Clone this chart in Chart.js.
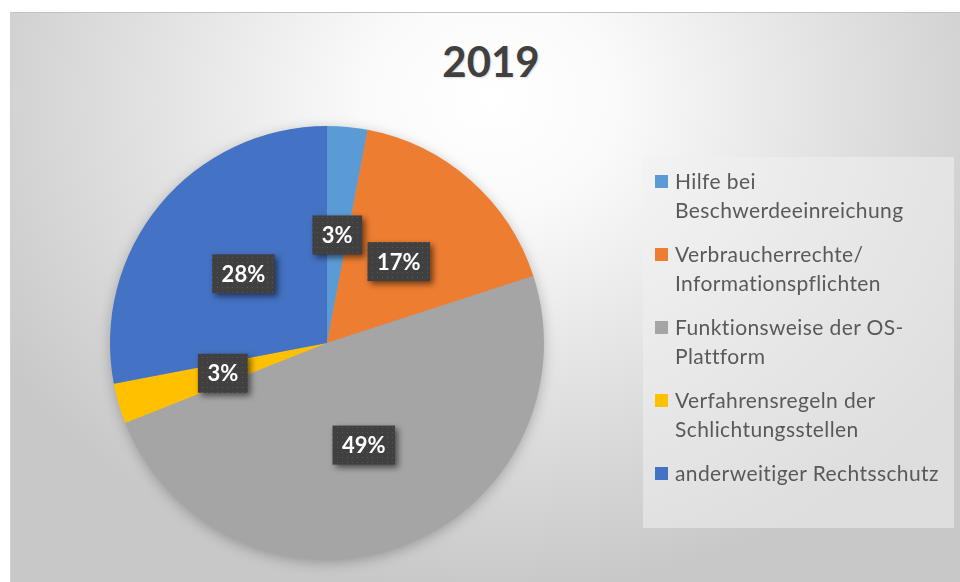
<!DOCTYPE html>
<html>
<head>
<meta charset="utf-8">
<script src="https://cdn.jsdelivr.net/npm/chart.js@4"></script>
<style>
  html, body { margin: 0; padding: 0; width: 960px; height: 582px; overflow: hidden; background: #fff; }
  #frame {
    position: absolute; left: 10px; top: 12px; width: 960px; height: 580px;
    border-top: 1px solid #c2c2c2; border-left: 1px solid #d0d0d0;
    background: radial-gradient(ellipse 60% 85% at 50% 15%, #ffffff 0%, #fafafa 22%, #e0e0e0 62%, #c8c8c8 100%);
  }
  #title {
    position: absolute; left: 0; width: 982px; top: 36px; text-align: center;
    font: bold 42px Lato, sans-serif; color: #404040;
    text-shadow: 1px 1px 2px rgba(0,0,0,0.15);
  }
  #chart { position: absolute; left: 0; top: 0; }
  #legend {
    position: absolute; left: 643px; top: 157px; width: 311px; height: 371px;
    background: rgba(240,240,240,0.55);
    font: 21px Lato, sans-serif; color: #595959; letter-spacing: 0.4px;
  }
  .item { position: absolute; left: 32px; }
  .item .sw { position: absolute; left: -20px; top: 9px; width: 13px; height: 13px; }
  .item .tx { line-height: 29px; white-space: nowrap; }
</style>
</head>
<body>
<div id="frame"></div>
<div id="title">2019</div>
<canvas id="chart" width="960" height="582"></canvas>
<div id="legend"></div>
<script>
// 2019 — Anfragen nach Thema (Anteile in %)
const labels = [
    ['Hilfe bei', 'Beschwerdeeinreichung'],
    ['Verbraucherrechte/', 'Informationspflichten'],
    ['Funktionsweise der OS-', 'Plattform'],
    ['Verfahrensregeln der', 'Schlichtungsstellen'],
    ['anderweitiger Rechtsschutz']
];
const values = [3, 17, 49, 3, 28];
const colors = ['#5B9BD5', '#ED7D31', '#A5A5A5', '#FFC000', '#4472C4'];

// legend as html so the two-line labels wrap like the original
const legendEl = document.getElementById('legend');
let itemTop = 9;
labels.forEach((lines, i) => {
    const item = document.createElement('div');
    item.className = 'item';
    item.style.top = itemTop + 'px';
    item.innerHTML = '<div class="sw" style="background:' + colors[i] + '"></div>' +
        lines.map(l => '<div class="tx">' + l + '</div>').join('');
    legendEl.appendChild(item);
    itemTop += lines.length * 29 + 15;
});

// dark dotted fill for the data label boxes
function makeBoxPattern(ctx) {
    const c = document.createElement('canvas');
    c.width = 5; c.height = 5;
    const p = c.getContext('2d');
    p.fillStyle = '#404040';
    p.fillRect(0, 0, 5, 5);
    p.fillStyle = '#585858';
    p.fillRect(2, 2, 1, 1);
    return ctx.createPattern(c, 'repeat');
}

const pieShadow = {
    id: 'pieShadow',
    beforeDatasetsDraw(chart) {
        const arc = chart.getDatasetMeta(0).data[0];
        if (!arc) return;
        const { x, y, outerRadius } = arc.getProps(['x', 'y', 'outerRadius'], true);
        const ctx = chart.ctx;
        ctx.save();
        ctx.shadowColor = 'rgba(0,0,0,0.28)';
        ctx.shadowBlur = 14;
        ctx.shadowOffsetY = 3;
        ctx.fillStyle = '#a5a5a5';
        ctx.beginPath();
        ctx.arc(x, y, outerRadius - 1, 0, Math.PI * 2);
        ctx.fill();
        ctx.restore();
    }
};

const boxLabels = {
    id: 'boxLabels',
    afterDatasetsDraw(chart) {
        const ctx = chart.ctx;
        const pattern = makeBoxPattern(ctx);
        const meta = chart.getDatasetMeta(0);
        ctx.save();
        ctx.font = 'bold 22px Lato, sans-serif';
        ctx.textAlign = 'center';
        ctx.textBaseline = 'middle';
        meta.data.forEach((arc, i) => {
            const p = arc.getProps(['x', 'y', 'startAngle', 'endAngle', 'outerRadius'], true);
            const mid = (p.startAngle + p.endAngle) / 2;
            const cx = p.x + Math.cos(mid) * p.outerRadius * 0.5;
            const cy = p.y + Math.sin(mid) * p.outerRadius * 0.5;
            const text = values[i] + '%';
            const w = ctx.measureText(text).width + 19;
            const h = 39;
            ctx.save();
            ctx.shadowColor = 'rgba(0,0,0,0.55)';
            ctx.shadowBlur = 6;
            ctx.shadowOffsetX = 3;
            ctx.shadowOffsetY = 3;
            ctx.fillStyle = pattern;
            ctx.fillRect(cx - w / 2, cy - h / 2, w, h);
            ctx.restore();
            ctx.fillStyle = '#ffffff';
            ctx.fillText(text, cx, cy + 1);
        });
        ctx.restore();
    }
};

new Chart(document.getElementById('chart'), {
    type: 'pie',
    data: {
        labels,
        datasets: [{
            data: values,
            backgroundColor: colors,
            borderWidth: 0,
        }]
    },
    options: {
        responsive: false,
        animation: false,
        layout: { padding: { left: 110, right: 416, top: 126, bottom: 22 } },
        plugins: {
            legend: { display: false },
            title: { display: false },
            tooltip: { enabled: false },
        }
    },
    plugins: [pieShadow, boxLabels]
});
</script>
</body>
</html>
